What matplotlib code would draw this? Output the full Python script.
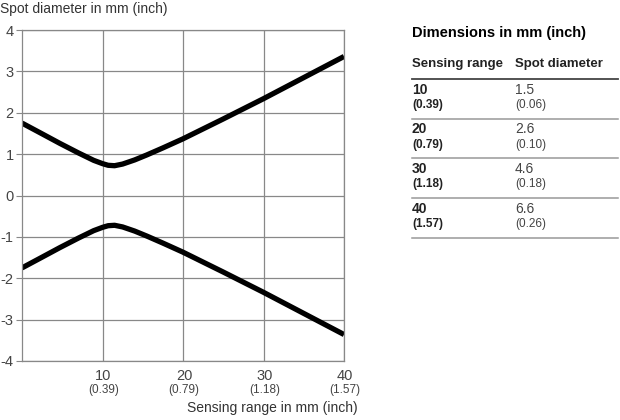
import matplotlib
matplotlib.use("Agg")
import matplotlib.pyplot as plt

plt.rcParams['font.family'] = ['Liberation Sans', 'DejaVu Sans']

# beam radius (mm)
x_mm = [0, 2.5, 4.7, 7, 8.9, 10, 10.7, 11.5, 12.5, 14, 15.5, 17.5, 20, 25, 30, 35, 40]
upper = [1.75, 1.49, 1.26, 1.03, 0.85, 0.77, 0.73, 0.72, 0.76, 0.86, 0.98, 1.15, 1.37, 1.85, 2.34, 2.85, 3.36]
lower = [-1.75, -1.49, -1.26, -1.03, -0.85, -0.77, -0.73, -0.72, -0.76, -0.86, -0.98, -1.15, -1.37, -1.85, -2.34, -2.85, -3.36]

x_ticks = [10, 20, 30, 40]
x_inch = ["(0.39)", "(0.79)", "(1.18)", "(1.57)"]
y_ticks = [-4, -3, -2, -1, 0, 1, 2, 3, 4]

# table
ranges = ["10", "20", "30", "40"]
ranges_inch = ["(0.39)", "(0.79)", "(1.18)", "(1.57)"]
spots = ["1.5", "2.6", "4.6", "6.6"]
spots_inch = ["(0.06)", "(0.10)", "(0.18)", "(0.26)"]

W, H = 620, 420
fig = plt.figure(figsize=(W / 100, H / 100), dpi=100)


def px(x, y):
    return x / W, 1 - y / H


ax = fig.add_axes([22 / W, 1 - 361 / H, 322 / W, 331 / H])
ax.plot(x_mm, upper, color='black', lw=3.8, solid_capstyle='butt', solid_joinstyle='round')
ax.plot(x_mm, lower, color='black', lw=3.8, solid_capstyle='butt', solid_joinstyle='round')
ax.set_xlim(0, 40)
ax.set_ylim(-4, 4)
ax.set_xticks(x_ticks)
ax.set_xticklabels([])
ax.set_yticks(y_ticks)
ax.set_yticklabels([str(v) for v in y_ticks], fontsize=10.5, color='#444444')
ax.tick_params(axis='y', length=4, color='#888888', pad=2)
ax.tick_params(axis='x', length=0)
ax.grid(True, color='#888888', lw=0.9)
for s in ax.spines.values():
    s.set_color('#888888')
    s.set_linewidth(0.9)

for t, lab in zip(x_ticks, x_inch):
    xx = 22 + t * 322 / 40
    fig.text(*px(xx + 1, 376), str(t), ha='center', va='center', fontsize=10.5, color='#444444')
    fig.text(*px(xx + 1, 390), lab, ha='center', va='center', fontsize=8.5, color='#444444')

fig.text(*px(0, 9), "Spot diameter in mm (inch)", ha='left', va='center', fontsize=10, color='#333333')
fig.text(*px(358, 408), "Sensing range in mm (inch)", ha='right', va='center', fontsize=10, color='#333333')

# table
fig.text(*px(412, 33), "Dimensions in mm (inch)", ha='left', va='center', fontsize=10.5, fontweight='bold', color='black')
fig.text(*px(412, 64), "Sensing range", ha='left', va='center', fontsize=9.5, fontweight='bold', color='#222222')
fig.text(*px(515, 64), "Spot diameter", ha='left', va='center', fontsize=9.5, fontweight='bold', color='#222222')
fig.add_artist(plt.Line2D([412 / W, 618 / W], [1 - 79 / H] * 2, color='#444444', lw=1.3))
for i in range(len(ranges)):
    y0 = 79 + i * 39.7
    fig.text(*px(412, y0 + 10.5), ranges[i], ha='left', va='center', fontsize=10, fontweight='bold', color='#222222')
    fig.text(*px(412, y0 + 26), ranges_inch[i], ha='left', va='center', fontsize=8.5, fontweight='bold', color='#222222')
    fig.text(*px(515, y0 + 10.5), spots[i], ha='left', va='center', fontsize=10, color='#444444')
    fig.text(*px(515, y0 + 26), spots_inch[i], ha='left', va='center', fontsize=8.5, color='#444444')
    fig.add_artist(plt.Line2D([412 / W, 618 / W], [1 - (y0 + 39.7) / H] * 2, color='#999999', lw=1.1))

fig.savefig("out.png", dpi=100)
